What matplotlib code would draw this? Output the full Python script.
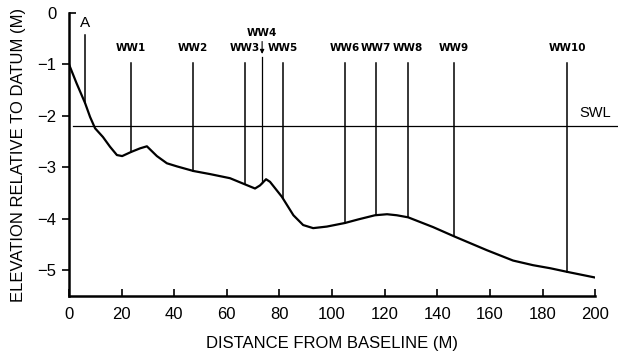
import numpy as np
import matplotlib.pyplot as plt
from matplotlib.markers import TICKRIGHT

# profile
dist = [0, 2.9, 6.1, 8, 9.9, 12.9, 15.6, 18.2, 20.2, 23.6, 27, 29.6, 33.4, 37.2,
        41, 47.3, 53.6, 61.2, 66.9, 70.7, 72.6, 74.9, 76.4, 80.9, 85.3, 89,
        92.8, 98, 104.9, 110, 116.3, 120.9, 124.6, 128.9, 138.4, 146.4, 158.9,
        168.8, 176.4, 183, 189.4, 200]
elev = [-1.0, -1.37, -1.75, -2.02, -2.24, -2.41, -2.6, -2.76, -2.78, -2.7, -2.63,
        -2.59, -2.78, -2.92, -2.98, -3.07, -3.13, -3.21, -3.33, -3.41, -3.35,
        -3.23, -3.28, -3.57, -3.93, -4.12, -4.18, -4.15, -4.08, -4.01, -3.93,
        -3.91, -3.93, -3.97, -4.16, -4.34, -4.61, -4.81, -4.9, -4.96, -5.03, -5.14]

gauges = ['WW1', 'WW2', 'WW3', 'WW5', 'WW6', 'WW7', 'WW8', 'WW9', 'WW10']
gauge_x = [23.6, 47.2, 66.9, 81.3, 104.9, 116.7, 128.9, 146.4, 189.4]
gauge_top = -0.98
ww4_x = 73.4
a_x = 6.1
a_top = -0.43
swl = -2.2

plt.rcParams['font.family'] = ['Liberation Sans', 'DejaVu Sans']

fig = plt.figure(figsize=(6.18, 3.58), dpi=100)
ax = fig.add_axes([0.1117, 0.173, 0.8513, 0.7907])

ax.plot(dist, elev, color='black', lw=1.6, zorder=3, solid_joinstyle='round')
ax.plot([1.5, 250], [swl, swl], color='black', lw=0.9, clip_on=False)
ax.text(194, swl + 0.12, 'SWL', fontsize=10.5, ha='left', va='bottom')

for name, gx in zip(gauges, gauge_x):
    bottom = np.interp(gx, dist, elev)
    ax.plot([gx, gx], [gauge_top, bottom], color='black', lw=1.1)
    ax.text(gx, gauge_top + 0.2, name, fontsize=7.5, fontweight='bold',
            family='DejaVu Sans', ha='center', va='bottom')

# gauge A
ax.plot([a_x, a_x], [a_top, np.interp(a_x, dist, elev)], color='black', lw=1.1)
ax.text(a_x, a_top + 0.1, 'A', fontsize=11, ha='center', va='bottom')

# WW4 with arrow
ax.annotate('', xy=(ww4_x, -0.85), xytext=(ww4_x, -0.5),
            arrowprops=dict(arrowstyle='-|>', color='black', lw=0.8,
                            mutation_scale=6))
ax.plot([ww4_x, ww4_x], [-0.85, np.interp(ww4_x, dist, elev)], color='black',
        lw=0.9)
ax.text(ww4_x, -0.48, 'WW4', fontsize=7.5, fontweight='bold', family='DejaVu Sans',
        ha='center', va='bottom')

ax.set_xlim(0, 200)
ax.set_ylim(-5.5, 0)
ax.set_xticks(range(0, 201, 20))
ax.set_yticks([-5, -4, -3, -2, -1, 0])
ax.set_yticklabels(['\u22125', '\u22124', '\u22123', '\u22122', '\u22121', '0'])
ax.tick_params(axis='x', direction='in', length=5, width=1.2, labelsize=12, pad=8)
ax.tick_params(axis='y', direction='out', length=5, width=1.2, labelsize=12, pad=4)
ax.yaxis.get_major_ticks()[-1].tick1line.set_marker(TICKRIGHT)

for s in ['top', 'right']:
    ax.spines[s].set_visible(False)
for s in ['left', 'bottom']:
    ax.spines[s].set_linewidth(1.8)

ax.set_xlabel('DISTANCE FROM BASELINE (M)', fontsize=12, labelpad=10)
ax.set_ylabel('ELEVATION RELATIVE TO DATUM (M)', fontsize=12, labelpad=8)

fig.savefig('out.png', dpi=100)
